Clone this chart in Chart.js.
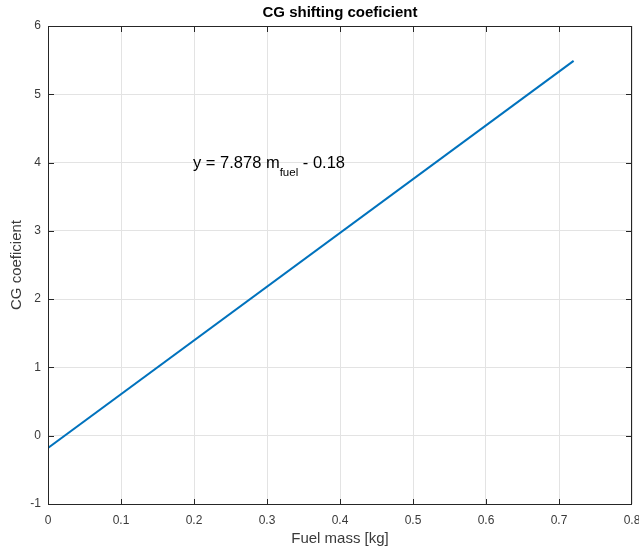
<!DOCTYPE html>
<html>
<head>
<meta charset="utf-8">
<script src="https://cdn.jsdelivr.net/npm/chart.js@4.4.1/dist/chart.umd.min.js"></script>
<style>
  html, body { margin: 0; padding: 0; background: #fff; overflow: hidden; }
  #wrap { width: 639px; height: 552px; }
</style>
</head>
<body>
<div id="wrap"><canvas id="cg" width="639" height="552"></canvas></div>
<script>
// data
const fuelMass = [0, 0.72];
const cgCoef = [-0.18, 5.49];
const xTicks = ['0', '0.1', '0.2', '0.3', '0.4', '0.5', '0.6', '0.7', '0.8'];
const yTicks = ['-1', '0', '1', '2', '3', '4', '5', '6'];
const annX = 0.2, annY = 4;

const FONT = '"Liberation Sans", Arial, sans-serif';
const AXIS = '#262626';
const TXT = '#3a3a3a';

// title, axis labels, box, inward ticks, equation text
const matlabLook = {
    id: 'matlabLook',
    afterDraw(chart) {
        const ctx = chart.ctx;
        const a = chart.chartArea;
        const xs = chart.scales.x, ys = chart.scales.y;
        const L = Math.round(a.left), R = Math.round(a.right) - 1;
        const T = Math.round(a.top), B = Math.round(a.bottom);
        ctx.save();

        ctx.fillStyle = AXIS;
        ctx.fillRect(L, T, R - L + 1, 1);
        ctx.fillRect(L, B, R - L + 1, 1);
        ctx.fillRect(L, T, 1, B - T + 1);
        ctx.fillRect(R, T, 1, B - T + 1);
        xs.ticks.forEach(t => {
            const px = Math.min(Math.round(xs.getPixelForValue(t.value)), R);
            ctx.fillRect(px, B - 5, 1, 5);
            ctx.fillRect(px, T + 1, 1, 5);
        });
        ys.ticks.forEach(t => {
            const py = Math.min(Math.round(ys.getPixelForValue(t.value)), B);
            ctx.fillRect(L + 1, py, 5, 1);
            ctx.fillRect(R - 5, py, 5, 1);
        });

        ctx.fillStyle = '#000';
        ctx.font = 'bold 15px ' + FONT;
        ctx.textAlign = 'center';
        ctx.textBaseline = 'middle';
        ctx.fillText('CG shifting coeficient', (a.left + a.right) / 2, 13);

        ctx.fillStyle = TXT;
        ctx.font = '15px ' + FONT;
        ctx.fillText('Fuel mass [kg]', (a.left + a.right) / 2, 539);
        ctx.save();
        ctx.translate(17, (a.top + a.bottom) / 2);
        ctx.rotate(-Math.PI / 2);
        ctx.fillText('CG coeficient', 0, 0);
        ctx.restore();

        // equation with subscript
        ctx.fillStyle = '#000';
        ctx.textAlign = 'left';
        ctx.textBaseline = 'alphabetic';
        let px = xs.getPixelForValue(annX) - 1;
        const py = ys.getPixelForValue(annY) + 5;
        ctx.font = '16.5px ' + FONT;
        const p1 = 'y = 7.878 m';
        ctx.fillText(p1, px, py);
        px += ctx.measureText(p1).width;
        ctx.font = '11.5px ' + FONT;
        ctx.fillText('fuel', px, py + 8);
        px += ctx.measureText('fuel').width;
        ctx.font = '16.5px ' + FONT;
        ctx.fillText(' - 0.18', px, py);

        ctx.restore();
    }
};

new Chart(document.getElementById('cg'), {
    type: 'scatter',
    data: {
        datasets: [{
            data: fuelMass.map((m, i) => ({ x: m, y: cgCoef[i] })),
            showLine: true,
            borderColor: '#0072BD',
            borderWidth: 2,
            pointRadius: 0,
            fill: false
        }]
    },
    options: {
        responsive: false,
        animation: false,
        layout: { padding: { top: 26, right: 7, left: 0, bottom: 0 } },
        plugins: { legend: { display: false }, tooltip: { enabled: false }, title: { display: false } },
        scales: {
            x: {
                type: 'linear', min: 0, max: 0.8,
                afterFit: s => { s.height = 48; s.paddingLeft = 0; s.paddingRight = 0; },
                grid: { color: '#e3e3e3', drawTicks: false },
                border: { display: false },
                ticks: {
                    stepSize: 0.1, padding: 9, color: TXT, maxRotation: 0,
                    font: { family: FONT, size: 12 },
                    callback: (v, i) => xTicks[i]
                }
            },
            y: {
                type: 'linear', min: -1, max: 6,
                afterFit: s => { s.width = 48; s.paddingTop = 0; s.paddingBottom = 0; },
                grid: { color: '#e3e3e3', drawTicks: false },
                border: { display: false },
                ticks: {
                    stepSize: 1, padding: 7, color: TXT,
                    font: { family: FONT, size: 12 },
                    callback: (v, i) => yTicks[i]
                }
            }
        }
    },
    plugins: [matlabLook]
});
</script>
</body>
</html>
